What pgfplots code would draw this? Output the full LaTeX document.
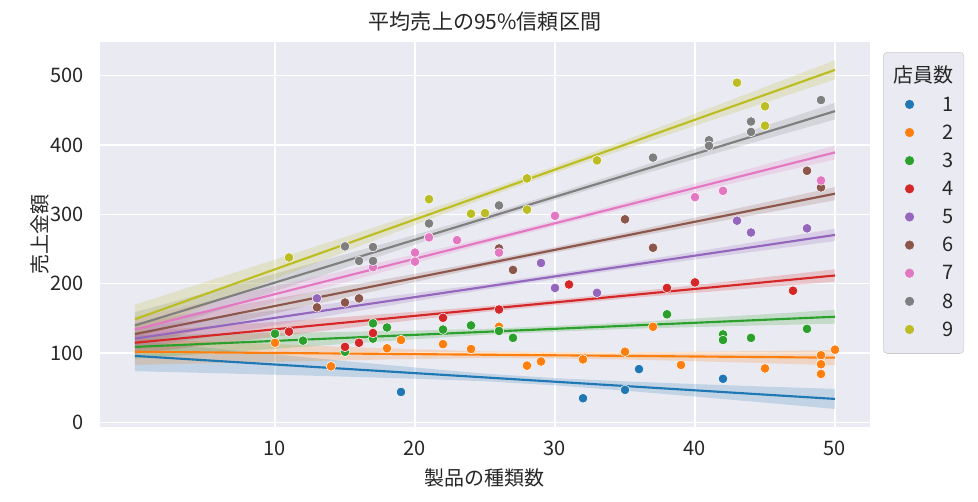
\documentclass[border=0pt]{standalone}
\usepackage{pgfplots}
\pgfplotsset{compat=1.18}
\usepackage{fontspec}
\setmainfont{Noto Sans CJK JP}
\definecolor{c1}{HTML}{1F77B4}
\definecolor{c2}{HTML}{FF7F0E}
\definecolor{c3}{HTML}{2CA02C}
\definecolor{c4}{HTML}{D62728}
\definecolor{c5}{HTML}{9467BD}
\definecolor{c6}{HTML}{8C564B}
\definecolor{c7}{HTML}{E377C2}
\definecolor{c8}{HTML}{7F7F7F}
\definecolor{c9}{HTML}{BCBD22}
\definecolor{bg}{HTML}{EAEAF2}
\definecolor{txt}{HTML}{262626}
\definecolor{lgd}{HTML}{CCCCCC}
\begin{document}
\begin{tikzpicture}[font=\fontsize{15pt}{18pt}\selectfont]
\useasboundingbox (-75pt,-55.5pt) rectangle (658.5pt,320.25pt);
\begin{axis}[
  at={(0pt,0pt)}, anchor=south west,
  scale only axis, width=577.5pt, height=288.75pt,
  xmin=-2.5, xmax=52.5, ymin=-6.5, ymax=548.7,
  xtick={10,20,30,40,50}, ytick={0,100,200,300,400,500},
  axis background/.style={fill=bg},
  axis line style={draw=none},
  major tick length=0pt,
  grid=major, major grid style={white, line width=1pt},
  /pgf/number format/assume math mode=true,
  tick label style={text=txt},
  yticklabel style={xshift=-8.5pt},
  xticklabel style={yshift=-7pt},
  every axis title shift=0pt,
  title={平均売上の95\%信頼区間},
  title style={at={(axis description cs:0.5,1.0527)}, anchor=center, yshift=0pt, text=txt, font=\fontsize{15.8pt}{19pt}\selectfont},
  xlabel={製品の種類数},
  xlabel style={at={(axis description cs:0.5,-0.1325)}, anchor=center, text=txt},
  ylabel={売上金額},
  ylabel style={at={(axis description cs:-0.0779,0.5)}, anchor=center, text=txt},
  legend style={at={(1.0169,0.974)}, anchor=north west, fill=bg, draw=lgd,
    rounded corners=3pt, inner xsep=7.5pt, inner ysep=12pt,
    row sep=9.1pt, column sep=21.75pt, text=txt,
    nodes={inner sep=0pt, text height=11pt, text depth=1pt, text width=8.25pt, align=right}},
  legend image code/.code={\path (-12pt,0pt); \draw[#1, mark size=3.2pt, mark options={draw=none}] plot coordinates {(0pt,0pt)};},
]
\addlegendimage{empty legend}
\addlegendentry{\llap{店員数}}
% confidence bands
\addplot[fill=c1, fill opacity=0.2, draw=none, forget plot] coordinates {(0,74)(5,71.5)(10,68.9)(15,66.2)(20,63.1)(25,59.5)(30,53.6)(35,45.9)(40,37.4)(45,28.6)(50,19.5)(50,48.5)(45,51.8)(40,55.4)(35,59.3)(30,64)(25,70.5)(20,79.3)(15,88.6)(10,98.3)(5,108.1)(0,118)} -- cycle;
\addplot[fill=c2, fill opacity=0.2, draw=none, forget plot] coordinates {(0,83)(5,85.35)(10,87.6)(15,89.75)(20,91.6)(25,92.95)(30,92.3)(35,90.95)(40,88.4)(45,85.55)(50,82.5)(50,104.5)(45,103.15)(40,102)(35,101.15)(30,101.5)(25,102.55)(20,105.6)(15,109.15)(10,113)(5,116.95)(0,121)} -- cycle;
\addplot[fill=c3, fill opacity=0.2, draw=none, forget plot] coordinates {(0,92)(5,99.25)(10,106.3)(15,113.35)(20,120.1)(25,126.45)(30,130.9)(35,134.85)(40,137.6)(45,140.15)(50,142.5)(50,162.5)(45,156.15)(40,150)(35,144.05)(30,139.3)(25,135.05)(20,132.7)(15,130.75)(10,129.1)(5,127.45)(0,126)} -- cycle;
\addplot[fill=c4, fill opacity=0.2, draw=none, forget plot] coordinates {(0,99)(5,111.4)(10,123.7)(15,135.9)(20,147.9)(25,159.4)(30,169.2)(35,178.7)(40,187)(45,195.1)(50,203)(50,221)(45,209.5)(40,198.2)(35,187.1)(30,177.2)(25,167.6)(20,159.7)(15,152.3)(10,145.1)(5,138)(0,131)} -- cycle;
\addplot[fill=c5, fill opacity=0.2, draw=none, forget plot] coordinates {(0,105)(5,122.65)(10,140.2)(15,157.65)(20,174.9)(25,191.65)(30,206.7)(35,221.45)(40,235)(45,248.35)(50,261.5)(50,279.5)(45,262.75)(40,246.2)(35,229.85)(30,214.7)(25,199.85)(20,186.7)(15,174.05)(10,161.6)(5,149.25)(0,137)} -- cycle;
\addplot[fill=c6, fill opacity=0.2, draw=none, forget plot] coordinates {(0,111.5)(5,134.45)(10,157.3)(15,180.05)(20,202.6)(25,224.65)(30,245)(35,264.85)(40,283.6)(45,302.15)(50,320.5)(50,339.5)(45,317.35)(40,295.4)(35,273.65)(30,253)(25,232.85)(20,214.4)(15,196.45)(10,178.7)(5,161.05)(0,143.5)} -- cycle;
\addplot[fill=c7, fill opacity=0.2, draw=none, forget plot] coordinates {(0,117)(5,145.45)(10,173.7)(15,201.95)(20,229.9)(25,257.45)(30,283.1)(35,308.25)(40,332.2)(45,355.95)(50,379.5)(50,399.5)(45,371.95)(40,344.6)(35,317.45)(30,291.5)(25,266.05)(20,242.5)(15,219.35)(10,196.5)(5,173.65)(0,151)} -- cycle;
\addplot[fill=c8, fill opacity=0.2, draw=none, forget plot] coordinates {(0,121)(5,155.1)(10,189.1)(15,223)(20,256.6)(25,289.7)(30,320.8)(35,350.8)(40,379.8)(45,408.5)(50,437)(50,461)(45,427.7)(40,394.6)(35,361.8)(30,330)(25,299.3)(20,270.6)(15,242.4)(10,214.5)(5,186.7)(0,159)} -- cycle;
\addplot[fill=c9, fill opacity=0.2, draw=none, forget plot] coordinates {(0,128)(5,167.55)(10,206.8)(15,246.15)(20,285)(25,323.45)(30,359.7)(35,394.25)(40,427.9)(45,461.35)(50,494.5)(50,522.5)(45,483.75)(40,445.3)(35,407.05)(30,369.7)(25,334.05)(20,300.6)(15,267.55)(10,235)(5,202.35)(0,170)} -- cycle;
% fitted lines
\addplot[c1, line width=1.6pt, forget plot] coordinates {(0,96)(50,34)};
\addplot[c2, line width=1.6pt, forget plot] coordinates {(0,102)(50,93.5)};
\addplot[c3, line width=1.6pt, forget plot] coordinates {(0,109)(50,152.5)};
\addplot[c4, line width=1.6pt, forget plot] coordinates {(0,115)(50,212)};
\addplot[c5, line width=1.6pt, forget plot] coordinates {(0,121)(50,270.5)};
\addplot[c6, line width=1.6pt, forget plot] coordinates {(0,127.5)(50,330)};
\addplot[c7, line width=1.6pt, forget plot] coordinates {(0,134)(50,389.5)};
\addplot[c8, line width=1.6pt, forget plot] coordinates {(0,140)(50,449)};
\addplot[c9, line width=1.6pt, forget plot] coordinates {(0,149)(50,508.5)};
% scatter points
\addplot[only marks, mark=*, mark size=3.6pt, color=c1, mark options={draw=white, line width=0.4pt, fill=c1}] coordinates {(19,44)(32,35)(35,47)(36,77)(42,63)};
\addlegendentry{1}
\addplot[only marks, mark=*, mark size=3.6pt, color=c2, mark options={draw=white, line width=0.4pt, fill=c2}] coordinates {(10,115)(14,81)(18,107)(19,119)(22,113)(24,106)(26,138)(28,82)(29,88)(32,91)(35,102)(37,138)(39,83)(45,78)(49,97)(49,84)(49,70)(50,105)};
\addlegendentry{2}
\addplot[only marks, mark=*, mark size=3.6pt, color=c3, mark options={draw=white, line width=0.4pt, fill=c3}] coordinates {(10,128)(12,118)(15,102)(17,143)(17,121)(18,137)(22,134)(24,140)(26,132)(27,122)(38,156)(42,127)(42,119)(44,122)(48,135)};
\addlegendentry{3}
\addplot[only marks, mark=*, mark size=3.6pt, color=c4, mark options={draw=white, line width=0.4pt, fill=c4}] coordinates {(11,131)(15,109)(16,115)(17,129)(22,151)(26,163)(31,199)(38,194)(40,202)(47,190)};
\addlegendentry{4}
\addplot[only marks, mark=*, mark size=3.6pt, color=c5, mark options={draw=white, line width=0.4pt, fill=c5}] coordinates {(13,179)(29,230)(30,194)(33,187)(43,291)(44,274)(48,280)};
\addlegendentry{5}
\addplot[only marks, mark=*, mark size=3.6pt, color=c6, mark options={draw=white, line width=0.4pt, fill=c6}] coordinates {(13,166)(15,173)(16,179)(26,251)(27,220)(35,293)(37,252)(48,363)(49,339)};
\addlegendentry{6}
\addplot[only marks, mark=*, mark size=3.6pt, color=c7, mark options={draw=white, line width=0.4pt, fill=c7}] coordinates {(17,224)(20,245)(20,232)(21,267)(23,263)(26,245)(30,298)(40,325)(42,334)(49,349)};
\addlegendentry{7}
\addplot[only marks, mark=*, mark size=3.6pt, color=c8, mark options={draw=white, line width=0.4pt, fill=c8}] coordinates {(15,254)(16,233)(17,253)(17,233)(21,287)(26,313)(37,382)(41,407)(41,399)(44,434)(44,419)(49,465)};
\addlegendentry{8}
\addplot[only marks, mark=*, mark size=3.6pt, color=c9, mark options={draw=white, line width=0.4pt, fill=c9}] coordinates {(11,238)(21,322)(24,301)(25,302)(28,352)(28,307)(33,378)(43,490)(45,456)(45,428)};
\addlegendentry{9}
\end{axis}
\end{tikzpicture}
\end{document}
